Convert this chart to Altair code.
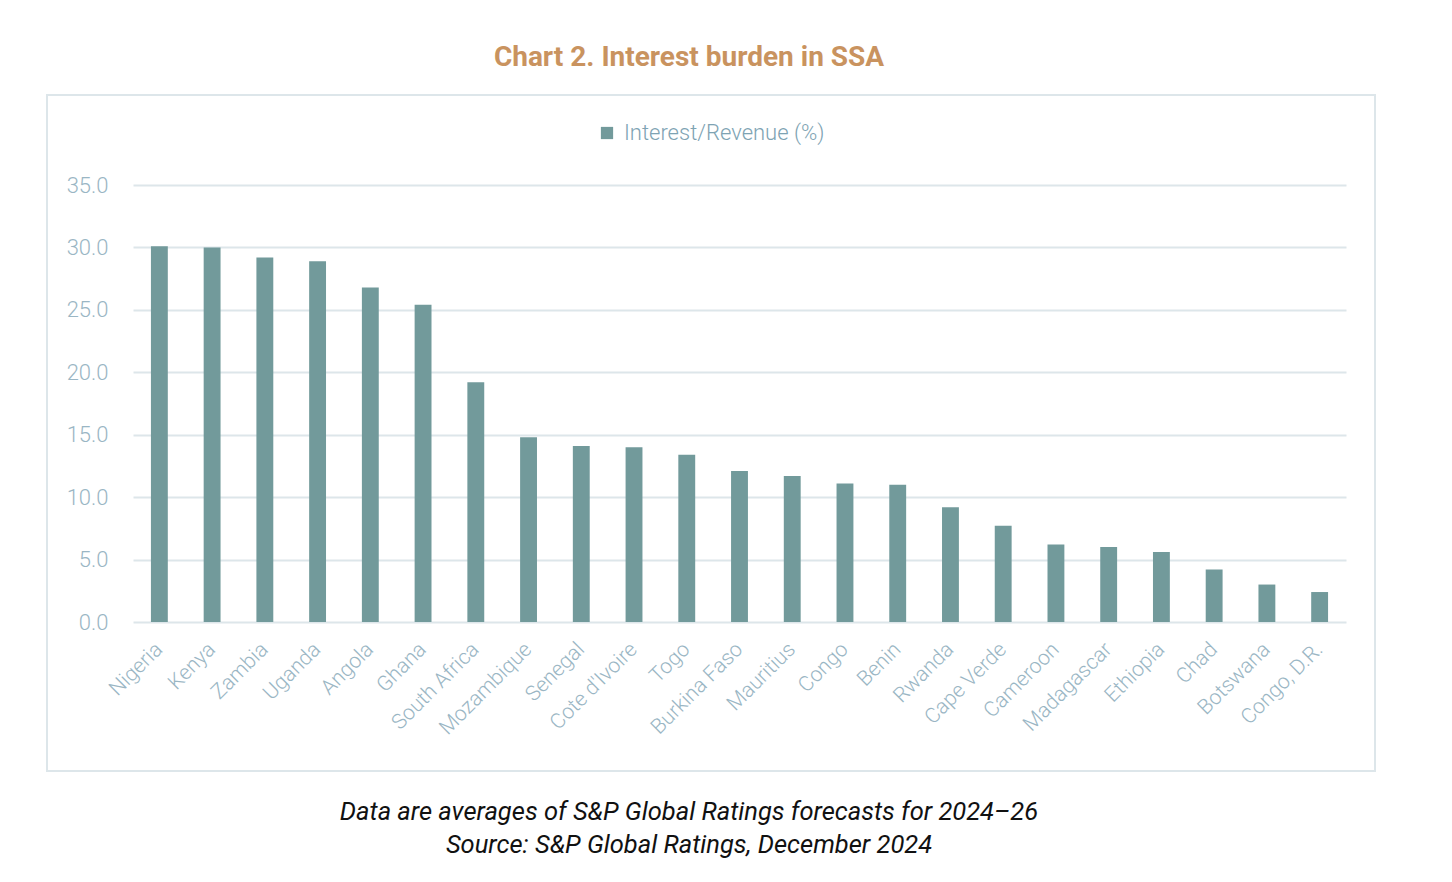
import altair as alt
import pandas as pd

countries = ["Nigeria", "Kenya", "Zambia", "Uganda", "Angola", "Ghana", "South Africa",
             "Mozambique", "Senegal", "Cote d'Ivoire", "Togo", "Burkina Faso", "Mauritius",
             "Congo", "Benin", "Rwanda", "Cape Verde", "Cameroon", "Madagascar", "Ethiopia",
             "Chad", "Botswana", "Congo, D.R."]
values = [30.1, 30.0, 29.2, 28.9, 26.8, 25.4, 19.2, 14.8, 14.1, 14.0, 13.4, 12.1, 11.7,
          11.1, 11.0, 9.2, 7.7, 6.2, 6.0, 5.6, 4.2, 3.0, 2.4]
series_name = "Interest/Revenue (%)"
title_text = "Chart 2. Interest burden in SSA"
footer_lines = ["Data are averages of S&P Global Ratings forecasts for 2024\u201326",
                "Source: S&P Global Ratings, December 2024"]

df = pd.DataFrame({"country": countries, "value": values, "series": series_name})

W, H = 1213, 437
FONT = "Roboto"
BAR = "#729a9b"
LABEL = "#9ab6c4"

bars = alt.Chart(df).mark_bar(color=BAR).encode(
    x=alt.X("country:N", sort=countries, title=None,
            scale=alt.Scale(paddingInner=0.68, paddingOuter=0.34),
            axis=alt.Axis(labelAngle=-45, labelAlign="right", labelBaseline="middle",
                          labelFontSize=21, labelFont=FONT, labelFontWeight=300,
                          labelColor=LABEL, labelPadding=24, ticks=False, domain=False,
                          grid=False, labelLimit=300)),
    y=alt.Y("value:Q", title=None,
            scale=alt.Scale(domain=[0, 35]),
            axis=alt.Axis(values=[0, 5, 10, 15, 20, 25, 30, 35], format=".1f",
                          labelFontSize=22, labelFont=FONT, labelFontWeight=300,
                          labelColor=LABEL, labelPadding=25, ticks=False, domain=False,
                          gridColor="#dde6ea", gridWidth=2)),
    color=alt.Color("series:N", scale=alt.Scale(range=[BAR]),
                    legend=alt.Legend(title=None, orient="none", legendX=463, legendY=-63,
                                      symbolType="square", symbolSize=150,
                                      symbolStrokeWidth=0, labelLimit=400,
                                      labelFontSize=22, labelFont=FONT, labelFontWeight=300,
                                      labelColor="#7ea3b3", labelOffset=6)),
)

one = alt.Data(values=[{}])

frame = alt.Chart(one).mark_rect(fill=None, stroke="#dde6ea", strokeWidth=2).encode(
    x=alt.value(-86), x2=alt.value(1242), y=alt.value(-90), y2=alt.value(586)
)

title = alt.Chart(one).mark_text(text=title_text, font=FONT, fontSize=28,
                                 fontWeight="bold", color="#c9935f",
                                 align="center", baseline="middle").encode(
    x=alt.value(556), y=alt.value(-127)
)

foot1 = alt.Chart(one).mark_text(text=footer_lines[0], font=FONT, fontSize=25.5,
                                 fontStyle="italic", color="#111111",
                                 align="center", baseline="middle").encode(
    x=alt.value(556), y=alt.value(627)
)
foot2 = alt.Chart(one).mark_text(text=footer_lines[1], font=FONT, fontSize=25.5,
                                 fontStyle="italic", color="#111111",
                                 align="center", baseline="middle").encode(
    x=alt.value(556), y=alt.value(660)
)

chart = alt.layer(frame, bars, title, foot1, foot2).properties(
    width=W, height=H,
    autosize=alt.AutoSizeParams(type="none"),
    padding={"left": 125, "top": 177, "right": 98, "bottom": 240},
).configure(background="white").configure_view(stroke=None)

chart.save("out.html", embed_options={"renderer": "svg", "actions": False})
